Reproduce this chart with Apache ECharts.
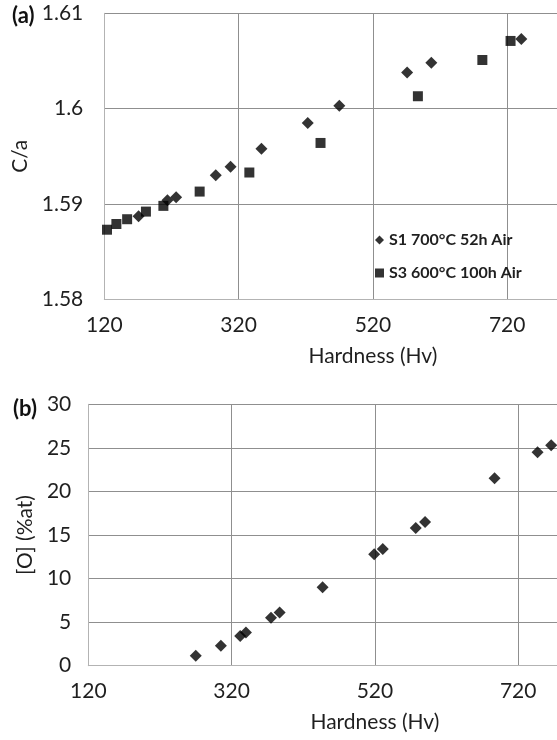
<!DOCTYPE html>
<html>
<head>
<meta charset="utf-8">
<script src="https://cdn.jsdelivr.net/npm/echarts@6/dist/echarts.min.js"></script>
<style>
html,body{margin:0;padding:0;background:#fff;}
#chart{width:557px;height:740px;}
</style>
</head>
<body>
<div id="chart"></div>
<script>
// ---- data ----
var s1Name = 'S1 700°C 52h Air';
var s3Name = 'S3 600°C 100h Air';
var s1Hardness = [171, 214, 227, 286, 308, 354, 423, 470, 571, 607, 741];
var s1Ca = [1.5887, 1.5904, 1.5907, 1.5930, 1.5939, 1.5958, 1.5985, 1.6003, 1.6038, 1.6048, 1.6073];
var s3Hardness = [119, 124, 138, 154, 182, 208, 262, 336, 442, 587, 683, 725];
var s3Ca = [1.5872, 1.5873, 1.5879, 1.5884, 1.5892, 1.5898, 1.5913, 1.5933, 1.5964, 1.6013, 1.6051, 1.6071];
var oHardness = [270, 305, 332, 340, 375, 387, 447, 519, 531, 577, 590, 687, 747, 766];
var oContent = [1.15, 2.3, 3.4, 3.8, 5.5, 6.1, 9.0, 12.8, 13.4, 15.8, 16.5, 21.5, 24.5, 25.3];
var caTicks = {min: 1.58, max: 1.61, interval: 0.01};
var oTicks = {min: 0, max: 30, interval: 5};
var hvTicks = {min: 120, max: 920, interval: 200};

function pairs(xs, ys) { return xs.map(function (x, i) { return [x, ys[i]]; }); }

var FONT = 'Lato';
var TXT = '#1f1f1f';
var SPLIT = '#8f8f8f';
var AXISC = '#b3b3b3';
var FS = 21;

function xAxisCfg(idx) {
  return {
    type: 'value', gridIndex: idx,
    min: hvTicks.min, max: hvTicks.max, interval: hvTicks.interval,
    name: 'Hardness (Hv)', nameLocation: 'middle', nameGap: 46,
    nameTextStyle: {fontFamily: FONT, fontSize: FS, color: TXT},
    axisLine: {show: true, lineStyle: {color: AXISC, width: 1}},
    axisTick: {show: false},
    axisLabel: {margin: 15, fontFamily: FONT, fontSize: FS, color: TXT},
    splitLine: {show: true, lineStyle: {color: SPLIT, width: 1}}
  };
}

var chart = echarts.init(document.getElementById('chart'), null, {renderer: 'canvas'});
var option = {
  animation: false,
  backgroundColor: '#fff',
  grid: [
    {left: 104.3, top: 13.3, bottom: 440.7, right: -84.5, outerBoundsMode: 'none', containLabel: false},
    {left: 88.3, top: 404.3, bottom: 74.3, right: -104.5, outerBoundsMode: 'none', containLabel: false}
  ],
  xAxis: [xAxisCfg(0), xAxisCfg(1)],
  yAxis: [
    {
      type: 'value', gridIndex: 0,
      min: caTicks.min, max: caTicks.max, interval: caTicks.interval,
      name: 'C/a', nameLocation: 'middle', nameGap: 67,
      nameTextStyle: {fontFamily: FONT, fontSize: FS, color: TXT},
      axisLine: {show: true, lineStyle: {color: AXISC, width: 1}},
      axisTick: {show: false},
      axisLabel: {margin: 21, fontFamily: FONT, fontSize: FS, color: TXT},
      splitLine: {show: true, lineStyle: {color: SPLIT, width: 1}}
    },
    {
      type: 'value', gridIndex: 1,
      min: oTicks.min, max: oTicks.max, interval: oTicks.interval,
      name: '[O] (%at)', nameLocation: 'middle', nameGap: 53,
      nameTextStyle: {fontFamily: FONT, fontSize: FS, color: TXT},
      axisLine: {show: true, lineStyle: {color: AXISC, width: 1}},
      axisTick: {show: false},
      axisLabel: {margin: 17, fontFamily: FONT, fontSize: FS, color: TXT},
      splitLine: {show: true, lineStyle: {color: SPLIT, width: 1}}
    }
  ],
  legend: {
    orient: 'vertical', left: 370, top: 227, itemGap: 17,
    itemWidth: 9, itemHeight: 9,
    textStyle: {fontFamily: FONT, fontSize: 16, fontWeight: 'bold', color: TXT},
    data: [{name: s1Name, icon: 'diamond'}, {name: s3Name, icon: 'rect'}]
  },
  graphic: [
    {type: 'text', left: 12, top: 5, style: {text: '(a)', font: 'bold 22px ' + FONT, fill: '#111'}},
    {type: 'text', left: 13, top: 398, style: {text: '(b)', font: 'bold 22px ' + FONT, fill: '#111'}}
  ],
  series: [
    {
      name: s1Name, type: 'scatter', xAxisIndex: 0, yAxisIndex: 0,
      symbol: 'diamond', symbolSize: 12,
      itemStyle: {color: '#000'},
      data: pairs(s1Hardness, s1Ca)
    },
    {
      name: s3Name, type: 'scatter', xAxisIndex: 0, yAxisIndex: 0,
      symbol: 'rect', symbolSize: 10,
      itemStyle: {color: '#000'},
      data: pairs(s3Hardness, s3Ca)
    },
    {
      name: 'O', type: 'scatter', xAxisIndex: 1, yAxisIndex: 1,
      symbol: 'diamond', symbolSize: 12,
      itemStyle: {color: '#000'},
      data: pairs(oHardness, oContent)
    }
  ]
};
chart.setOption(option);
</script>
</body>
</html>
